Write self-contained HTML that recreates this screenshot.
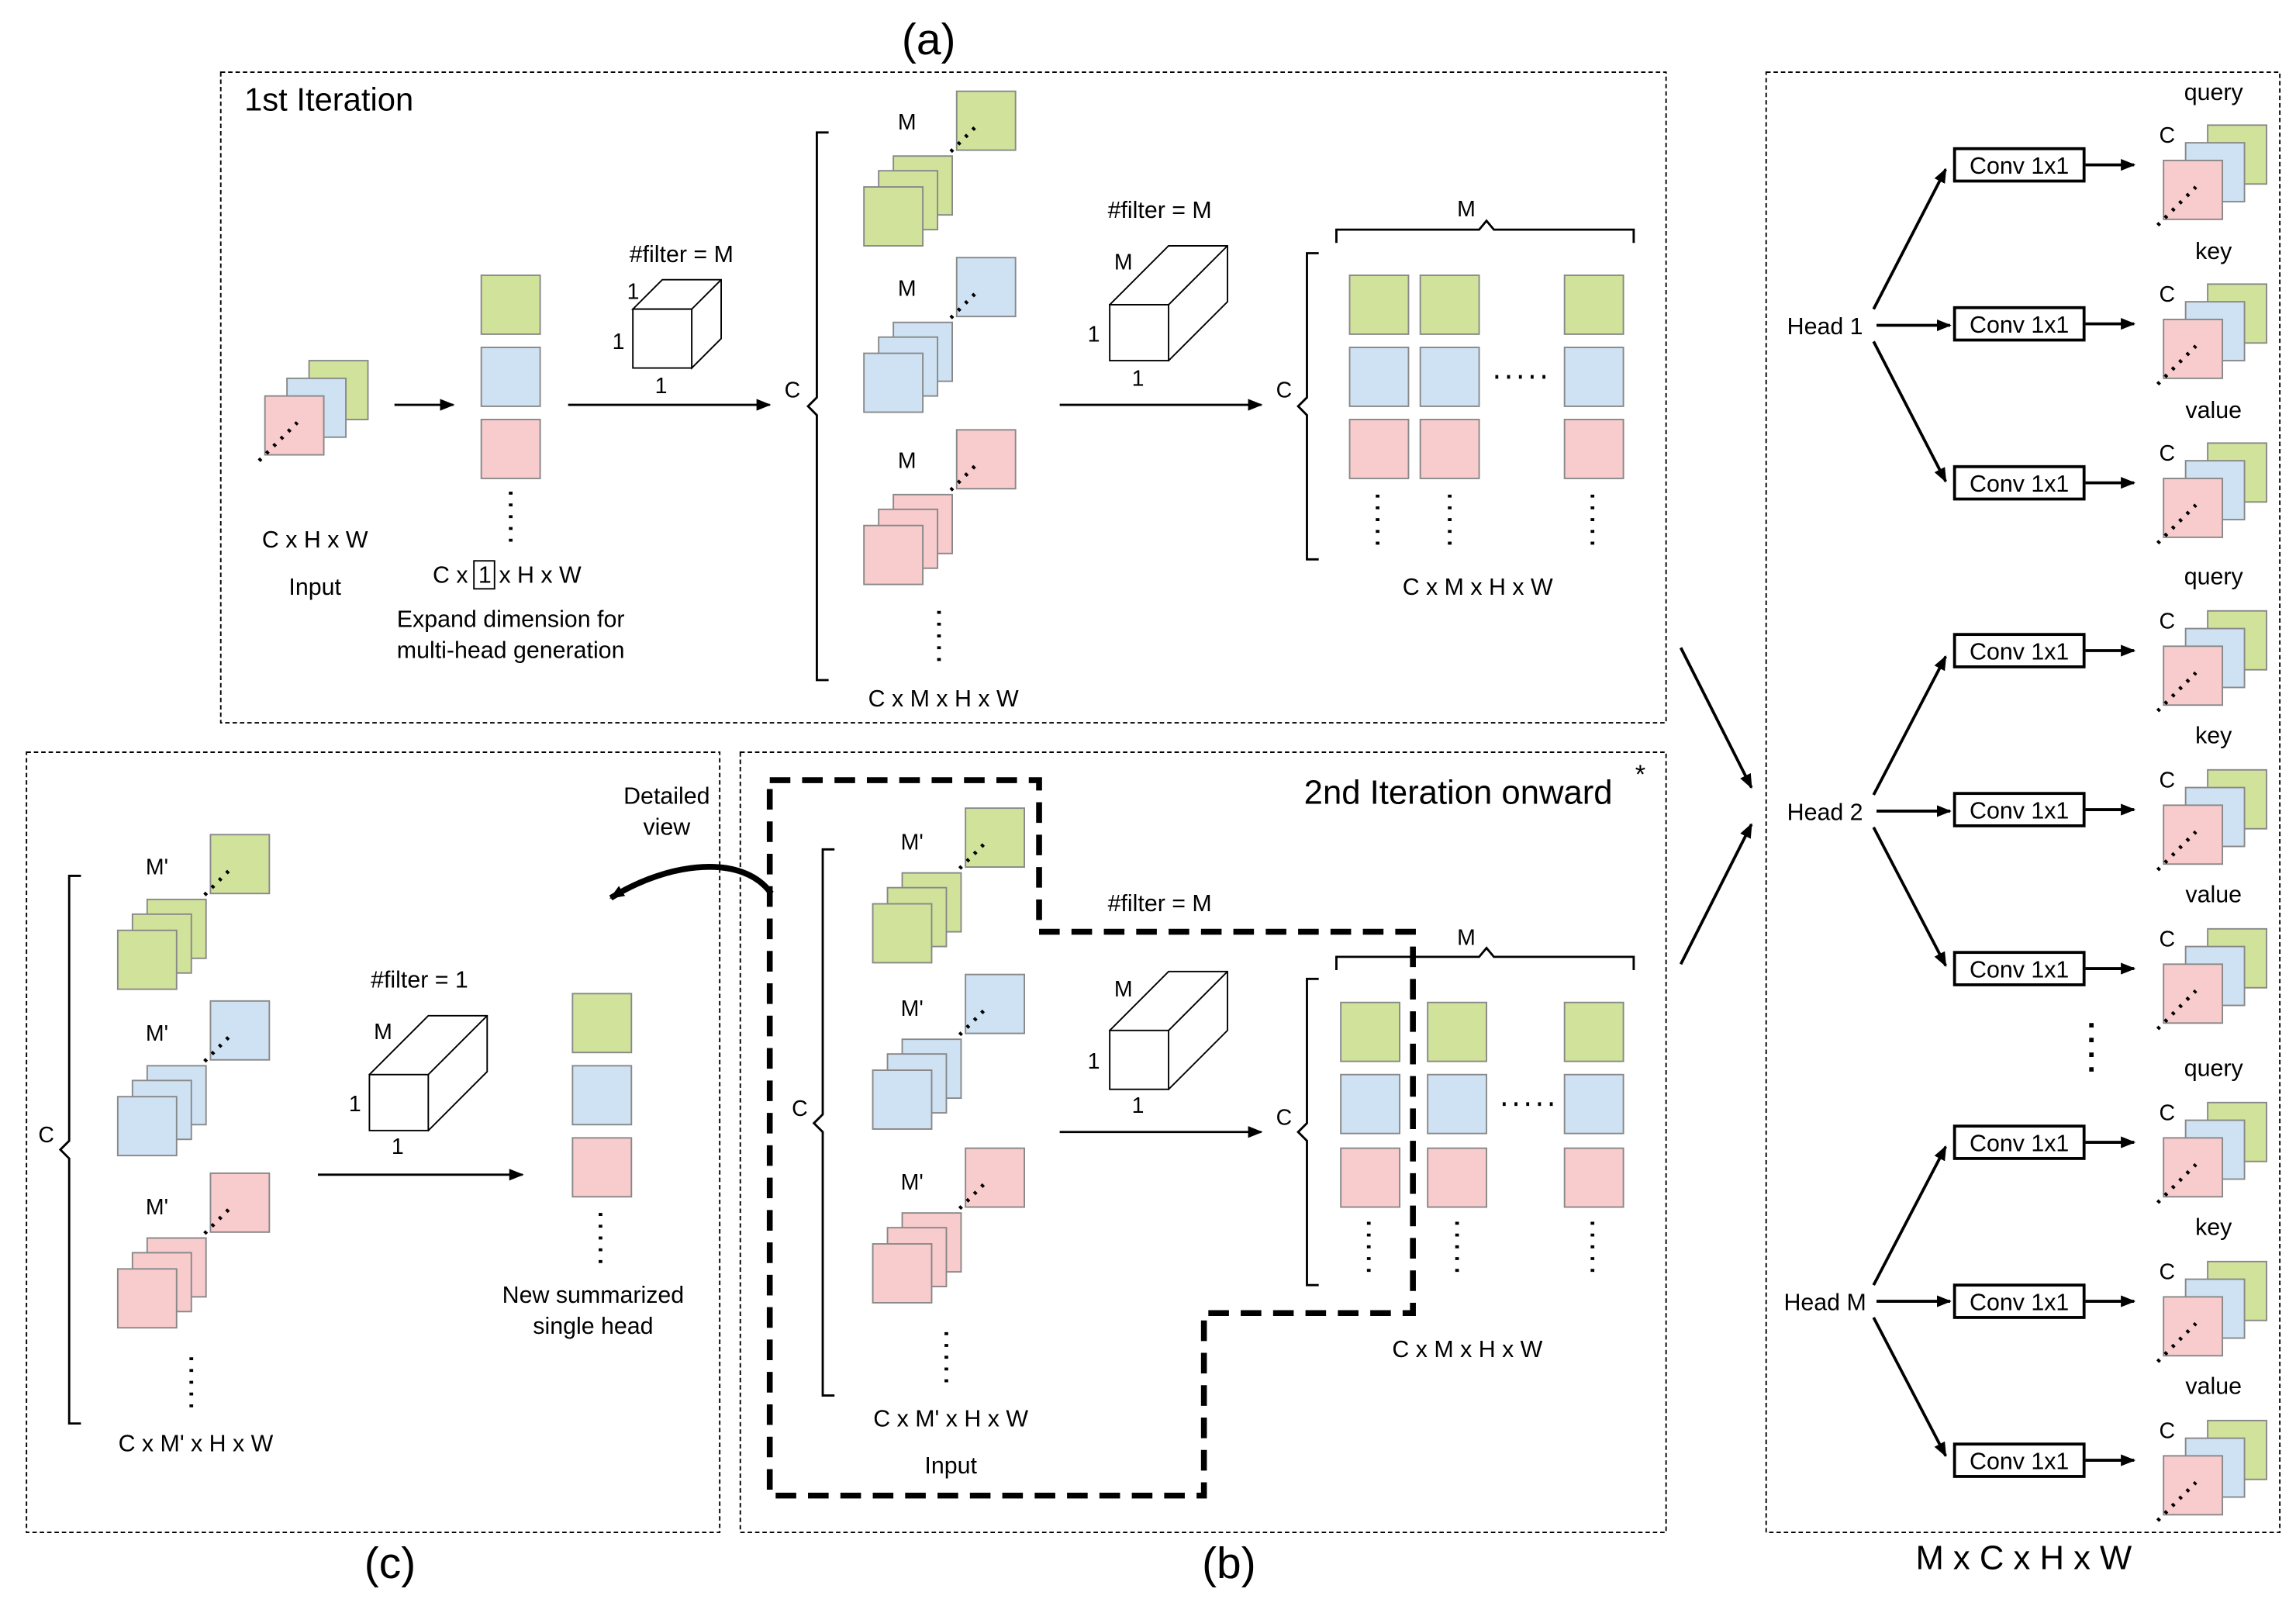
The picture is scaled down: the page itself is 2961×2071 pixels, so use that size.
<!DOCTYPE html>
<html><head><meta charset="utf-8"><style>
html,body{margin:0;padding:0;background:#fff}
svg{display:block}
text{font-family:"Liberation Sans",Arial,sans-serif;fill:#000}
</style></head><body>
<svg width="2961" height="2071" viewBox="0 0 1560 1091" preserveAspectRatio="none" xmlns="http://www.w3.org/2000/svg">
<defs>
<marker id="ah" markerWidth="10" markerHeight="8" refX="9" refY="4" orient="auto" markerUnits="userSpaceOnUse"><path d="M0,0 L10,4 L0,8 z" fill="#000"/></marker>
<g id="mstack" stroke="#888" stroke-width="1">
<rect x="-43" y="44" width="40" height="40"/>
<rect x="-53" y="54" width="40" height="40"/>
<rect x="-63" y="65" width="40" height="40"/>
<rect x="0" y="0" width="40" height="40"/>
<line x1="-4" y1="41" x2="15" y2="22" stroke="#000" stroke-width="2.5" stroke-dasharray="2 5"/>
</g>
<g id="rgb" stroke="#888" stroke-width="1">
<rect x="30" y="0" width="40" height="40" fill="#d1e39b"/>
<rect x="15" y="12" width="40" height="40" fill="#cfe2f3"/>
<rect x="0" y="24" width="40" height="40" fill="#f8cbcd"/>
<line x1="-4" y1="68" x2="22" y2="42" stroke="#000" stroke-width="2.5" stroke-dasharray="2 5"/>
</g>
</defs>

<!-- frames -->
<g fill="none" stroke="#000" stroke-width="1" stroke-dasharray="3 2">
<rect x="150" y="49" width="982" height="442"/>
<rect x="503" y="511" width="629" height="530"/>
<rect x="18" y="511" width="471" height="530"/>
<rect x="1200" y="49" width="349" height="992"/>
</g>
<text x="631" y="37" font-size="30" text-anchor="middle">(a)</text>
<text x="835" y="1072" font-size="30" text-anchor="middle">(b)</text>
<text x="265" y="1072" font-size="30" text-anchor="middle">(c)</text>
<text x="1375" y="1066" font-size="23" text-anchor="middle">M x C x H x W</text>
<text x="166" y="75" font-size="22">1st Iteration</text>
<text x="886" y="546" font-size="23">2nd Iteration onward</text>
<text x="1111" y="532" font-size="18">*</text>

<!-- (a) input -->
<g transform="translate(180,245)"><use href="#rgb"/></g>
<text x="214" y="372" font-size="16" text-anchor="middle">C x H x W</text>
<text x="214" y="404" font-size="16" text-anchor="middle">Input</text>
<line x1="268" y1="275" x2="308" y2="275" stroke="#000" stroke-width="1.5" marker-end="url(#ah)"/>
<g stroke="#888"><rect x="327" y="187" width="40" height="40" fill="#d1e39b"/><rect x="327" y="236" width="40" height="40" fill="#cfe2f3"/><rect x="327" y="285" width="40" height="40" fill="#f8cbcd"/></g>
<line x1="347" y1="334" x2="347" y2="368" stroke="#000" stroke-width="2.5" stroke-dasharray="2 6"/>
<text x="294" y="396" font-size="16">C x</text><rect x="322" y="381" width="14" height="19" fill="none" stroke="#000"/><text x="325" y="396" font-size="16">1</text><text x="339" y="396" font-size="16">x H x W</text>
<text x="347" y="426" font-size="16" text-anchor="middle">Expand dimension for</text>
<text x="347" y="447" font-size="16" text-anchor="middle">multi-head generation</text>
<text x="463" y="178" font-size="16" text-anchor="middle">#filter = M</text>
<g fill="#fff" stroke="#000"><path d="M430,210 L450,190 L490,190 L490,230 L470,250 L470,210 Z"/><line x1="470" y1="210" x2="490" y2="190"/><rect x="430" y="210" width="40" height="40"/></g>
<text x="426" y="203" font-size="15">1</text><text x="416" y="237" font-size="15">1</text><text x="445" y="267" font-size="15">1</text>
<line x1="386" y1="275" x2="523" y2="275" stroke="#000" stroke-width="1.5" marker-end="url(#ah)"/>
<path d="M563,90 L555,90 L555,270 L549,276 L555,282 L555,462 L563,462" fill="none" stroke="#000" stroke-width="1.5"/>
<text x="533" y="270" font-size="15">C</text>
<use href="#mstack" transform="translate(650,62)" fill="#d1e39b"/>
<use href="#mstack" transform="translate(650,175)" fill="#cfe2f3"/>
<use href="#mstack" transform="translate(650,292)" fill="#f8cbcd"/>
<text x="610" y="88" font-size="15">M</text><text x="610" y="201" font-size="15">M</text><text x="610" y="318" font-size="15">M</text>
<line x1="638" y1="415" x2="638" y2="450" stroke="#000" stroke-width="2.5" stroke-dasharray="2 6"/>
<text x="641" y="480" font-size="16" text-anchor="middle">C x M x H x W</text>
<text x="788" y="148" font-size="16" text-anchor="middle">#filter = M</text>
<g fill="#fff" stroke="#000"><path d="M754,207 L794,167 L834,167 L834,205 L794,245 Z"/><line x1="794" y1="207" x2="834" y2="167"/><rect x="754" y="207" width="40" height="38"/></g>
<text x="757" y="183" font-size="15">M</text><text x="739" y="232" font-size="15">1</text><text x="769" y="262" font-size="15">1</text>
<line x1="720" y1="275" x2="857" y2="275" stroke="#000" stroke-width="1.5" marker-end="url(#ah)"/>
<path d="M908,165 L908,156 L1005,156 L1010,150 L1015,156 L1110,156 L1110,165" fill="none" stroke="#000" stroke-width="1.5"/>
<text x="990" y="147" font-size="15">M</text>
<path d="M896,172 L888,172 L888,270 L882,276 L888,282 L888,380 L896,380" fill="none" stroke="#000" stroke-width="1.5"/>
<text x="867" y="270" font-size="15">C</text>
<g stroke="#888">
<rect x="917" y="187" width="40" height="40" fill="#d1e39b"/><rect x="965" y="187" width="40" height="40" fill="#d1e39b"/><rect x="1063" y="187" width="40" height="40" fill="#d1e39b"/>
<rect x="917" y="236" width="40" height="40" fill="#cfe2f3"/><rect x="965" y="236" width="40" height="40" fill="#cfe2f3"/><rect x="1063" y="236" width="40" height="40" fill="#cfe2f3"/>
<rect x="917" y="285" width="40" height="40" fill="#f8cbcd"/><rect x="965" y="285" width="40" height="40" fill="#f8cbcd"/><rect x="1063" y="285" width="40" height="40" fill="#f8cbcd"/>
</g>
<g stroke="#000" stroke-width="2.5" stroke-dasharray="2 6">
<line x1="936" y1="336" x2="936" y2="370"/><line x1="985" y1="336" x2="985" y2="370"/><line x1="1082" y1="336" x2="1082" y2="370"/>
<line x1="1016" y1="256" x2="1052" y2="256"/>
</g>
<text x="1004" y="404" font-size="16" text-anchor="middle">C x M x H x W</text>

<!-- (b) -->
<path d="M523,530 L706,530 L706,633 L960,633 L960,892 L818,892 L818,1016 L523,1016 Z" fill="none" stroke="#000" stroke-width="4" stroke-dasharray="14 8"/>
<path d="M567,577 L559,577 L559,757 L553,763 L559,769 L559,948 L567,948" fill="none" stroke="#000" stroke-width="1.5"/>
<text x="538" y="758" font-size="15">C</text>
<use href="#mstack" transform="translate(656,549)" fill="#d1e39b"/>
<use href="#mstack" transform="translate(656,662)" fill="#cfe2f3"/>
<use href="#mstack" transform="translate(656,780)" fill="#f8cbcd"/>
<text x="612" y="577" font-size="15">M'</text><text x="612" y="690" font-size="15">M'</text><text x="612" y="808" font-size="15">M'</text>
<line x1="643" y1="905" x2="643" y2="940" stroke="#000" stroke-width="2.5" stroke-dasharray="2 6"/>
<text x="646" y="969" font-size="16" text-anchor="middle">C x M' x H x W</text>
<text x="646" y="1001" font-size="16" text-anchor="middle">Input</text>
<text x="788" y="619" font-size="16" text-anchor="middle">#filter = M</text>
<g fill="#fff" stroke="#000"><path d="M754,700 L794,660 L834,660 L834,700 L794,740 Z"/><line x1="794" y1="700" x2="834" y2="660"/><rect x="754" y="700" width="40" height="40"/></g>
<text x="757" y="677" font-size="15">M</text><text x="739" y="726" font-size="15">1</text><text x="769" y="756" font-size="15">1</text>
<line x1="720" y1="769" x2="857" y2="769" stroke="#000" stroke-width="1.5" marker-end="url(#ah)"/>
<path d="M908,659 L908,650 L1005,650 L1010,644 L1015,650 L1110,650 L1110,659" fill="none" stroke="#000" stroke-width="1.5"/>
<text x="990" y="642" font-size="15">M</text>
<path d="M896,665 L888,665 L888,763 L882,769 L888,775 L888,873 L896,873" fill="none" stroke="#000" stroke-width="1.5"/>
<text x="867" y="764" font-size="15">C</text>
<g stroke="#888">
<rect x="911" y="681" width="40" height="40" fill="#d1e39b"/><rect x="970" y="681" width="40" height="40" fill="#d1e39b"/><rect x="1063" y="681" width="40" height="40" fill="#d1e39b"/>
<rect x="911" y="730" width="40" height="40" fill="#cfe2f3"/><rect x="970" y="730" width="40" height="40" fill="#cfe2f3"/><rect x="1063" y="730" width="40" height="40" fill="#cfe2f3"/>
<rect x="911" y="780" width="40" height="40" fill="#f8cbcd"/><rect x="970" y="780" width="40" height="40" fill="#f8cbcd"/><rect x="1063" y="780" width="40" height="40" fill="#f8cbcd"/>
</g>
<g stroke="#000" stroke-width="2.5" stroke-dasharray="2 6">
<line x1="930" y1="830" x2="930" y2="864"/><line x1="990" y1="830" x2="990" y2="864"/><line x1="1082" y1="830" x2="1082" y2="864"/>
<line x1="1021" y1="750" x2="1056" y2="750"/>
</g>
<text x="997" y="922" font-size="16" text-anchor="middle">C x M x H x W</text>

<!-- (c) -->
<text x="453" y="546" font-size="16" text-anchor="middle">Detailed</text>
<text x="453" y="567" font-size="16" text-anchor="middle">view</text>
<path d="M524,607 C505,580 455,585 415,610" fill="none" stroke="#000" stroke-width="4" marker-end="url(#ah)"/>
<path d="M55,595 L47,595 L47,775 L41,781 L47,787 L47,967 L55,967" fill="none" stroke="#000" stroke-width="1.5"/>
<text x="26" y="776" font-size="15">C</text>
<use href="#mstack" transform="translate(143,567)" fill="#d1e39b"/>
<use href="#mstack" transform="translate(143,680)" fill="#cfe2f3"/>
<use href="#mstack" transform="translate(143,797)" fill="#f8cbcd"/>
<text x="99" y="594" font-size="15">M'</text><text x="99" y="707" font-size="15">M'</text><text x="99" y="825" font-size="15">M'</text>
<line x1="130" y1="922" x2="130" y2="956" stroke="#000" stroke-width="2.5" stroke-dasharray="2 6"/>
<text x="133" y="986" font-size="16" text-anchor="middle">C x M' x H x W</text>
<text x="285" y="671" font-size="16" text-anchor="middle">#filter = 1</text>
<g fill="#fff" stroke="#000"><path d="M251,730 L291,690 L331,690 L331,728 L291,768 Z"/><line x1="291" y1="730" x2="331" y2="690"/><rect x="251" y="730" width="40" height="38"/></g>
<text x="254" y="706" font-size="15">M</text><text x="237" y="755" font-size="15">1</text><text x="266" y="784" font-size="15">1</text>
<line x1="216" y1="798" x2="355" y2="798" stroke="#000" stroke-width="1.5" marker-end="url(#ah)"/>
<g stroke="#888"><rect x="389" y="675" width="40" height="40" fill="#d1e39b"/><rect x="389" y="724" width="40" height="40" fill="#cfe2f3"/><rect x="389" y="773" width="40" height="40" fill="#f8cbcd"/></g>
<line x1="408" y1="824" x2="408" y2="858" stroke="#000" stroke-width="2.5" stroke-dasharray="2 6"/>
<text x="403" y="885" font-size="16" text-anchor="middle">New summarized</text>
<text x="403" y="906" font-size="16" text-anchor="middle">single head</text>

<!-- arrows to right -->
<line x1="1142" y1="440" x2="1190" y2="535" stroke="#000" stroke-width="2" marker-end="url(#ah)"/>
<line x1="1142" y1="655" x2="1190" y2="560" stroke="#000" stroke-width="2" marker-end="url(#ah)"/>

<!-- right panel -->
<g stroke="#000" stroke-width="2" fill="none">
<line x1="1273" y1="210" x2="1322" y2="115" marker-end="url(#ah)"/>
<line x1="1275" y1="221" x2="1325" y2="221" marker-end="url(#ah)"/>
<line x1="1273" y1="232" x2="1322" y2="327" marker-end="url(#ah)"/>
<line x1="1273" y1="540" x2="1322" y2="446" marker-end="url(#ah)"/>
<line x1="1275" y1="551" x2="1325" y2="551" marker-end="url(#ah)"/>
<line x1="1273" y1="562" x2="1322" y2="656" marker-end="url(#ah)"/>
<line x1="1273" y1="873" x2="1322" y2="779" marker-end="url(#ah)"/>
<line x1="1275" y1="884" x2="1325" y2="884" marker-end="url(#ah)"/>
<line x1="1273" y1="895" x2="1322" y2="989" marker-end="url(#ah)"/>
</g>
<text x="1240" y="227" font-size="16" text-anchor="middle">Head 1</text>
<text x="1240" y="557" font-size="16" text-anchor="middle">Head 2</text>
<text x="1240" y="890" font-size="16" text-anchor="middle">Head M</text>
<line x1="1421" y1="695" x2="1421" y2="732" stroke="#000" stroke-width="3" stroke-dasharray="3 7"/>

<g id="cv">
<rect x="1328" y="101" width="88" height="22" fill="#fff" stroke="#000" stroke-width="2"/>
<text x="1372" y="118" font-size="16" text-anchor="middle">Conv 1x1</text>
<line x1="1417" y1="112" x2="1450" y2="112" stroke="#000" stroke-width="2" marker-end="url(#ah)"/>
<text x="1467" y="97" font-size="15">C</text>
<use href="#rgb" transform="translate(1470,85)"/>
</g>
<use href="#cv" transform="translate(0,108)"/>
<use href="#cv" transform="translate(0,216)"/>
<use href="#cv" transform="translate(0,330)"/>
<use href="#cv" transform="translate(0,438)"/>
<use href="#cv" transform="translate(0,546)"/>
<use href="#cv" transform="translate(0,664)"/>
<use href="#cv" transform="translate(0,772)"/>
<use href="#cv" transform="translate(0,880)"/>
<g font-size="16" text-anchor="middle">
<text x="1504" y="68">query</text><text x="1504" y="176">key</text><text x="1504" y="284">value</text>
<text x="1504" y="397">query</text><text x="1504" y="505">key</text><text x="1504" y="613">value</text>
<text x="1504" y="731">query</text><text x="1504" y="839">key</text><text x="1504" y="947">value</text>
</g>
</svg>
</body></html>
